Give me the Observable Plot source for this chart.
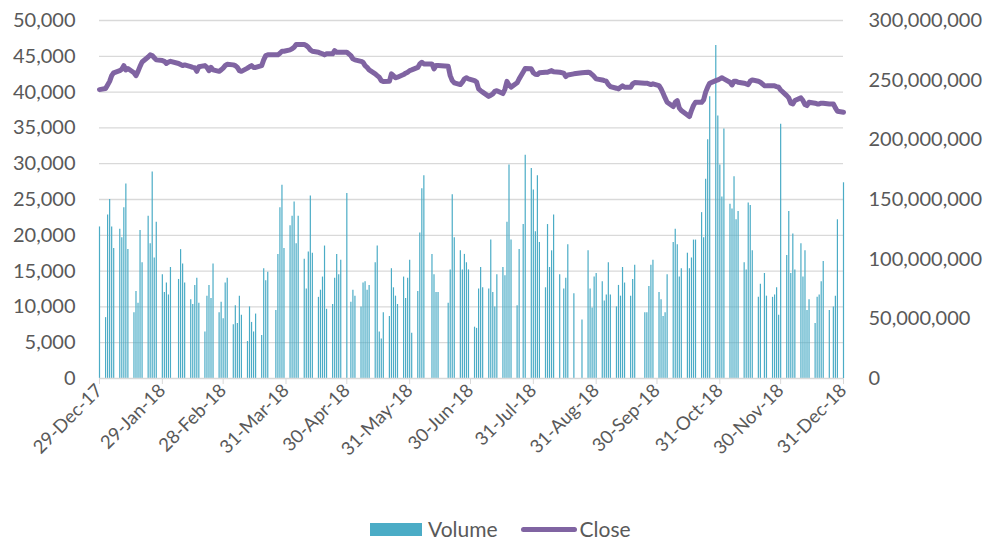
<!DOCTYPE html>
<html><head><meta charset="utf-8">
<script src="https://cdn.jsdelivr.net/npm/d3@7"></script>
<script src="https://cdn.jsdelivr.net/npm/@observablehq/plot@0.6"></script>
<style>
html,body{margin:0;padding:0;background:#fff;}
#wrap{position:relative;width:990px;height:540px;overflow:hidden;font-family:Lato,"Open Sans",sans-serif;}
#legend{position:absolute;top:518px;left:370px;height:22px;line-height:22px;display:flex;align-items:center;font-size:21px;color:#595959;white-space:nowrap;}
</style></head><body><div id="wrap"><div id="chart"></div>
<div id="legend"><span style="display:inline-block;width:52px;height:13px;background:#4BACC6;margin-right:6px"></span><span>Volume</span><span style="display:inline-block;width:56px;height:5px;border-radius:3px;background:#8064A2;margin:0 3px 0 23px"></span><span>Close</span></div>
</div>
<script>
// Trading calendar: weekdays between these dates, minus the market holidays
const startDate = "2017-12-29";
const endDate = "2018-12-31";
const holidays = ["2018-02-05","2018-03-23","2018-05-01","2018-06-08","2018-06-15","2018-06-18","2018-07-25","2018-08-14","2018-08-21","2018-08-22","2018-08-23","2018-09-20","2018-09-21","2018-11-21","2018-12-25"];

// x-axis tick dates
const tickDates = ["2017-12-29","2018-01-29","2018-02-28","2018-03-31","2018-04-30","2018-05-31","2018-06-30","2018-07-31","2018-08-31","2018-09-30","2018-10-31","2018-11-30","2018-12-31"];

// Daily volume, millions (one line per week)
const volumeM = [
  127,
  51,137,150,127,109,
  125,118,143,163,108,
  55,73,63,124,97,
  136,113,173,101,131,
  87,72,80,70,93,
  83,108,96,80,
  66,62,78,84,63,
  39,69,78,67,96,
  55,64,50,80,84,
  45,61,46,69,53,
  31,60,47,39,54,
  36,92,82,89,
  57,104,143,162,109,
  128,136,148,113,136,
  100,75,106,153,105,
  68,74,85,111,58,
  62,84,104,87,99,
  155,64,74,69,
  60,80,81,74,78,
  97,111,39,33,55,
  52,92,76,69,62,
  85,67,84,99,38,
  73,122,159,170,
  104,87,72,72,
  63,91,154,118,
  107,91,104,97,91,
  43,42,75,93,76,
  75,116,72,60,87,
  93,86,131,179,116,
  61,108,129,187,
  176,158,123,170,114,
  76,129,93,107,137,
  87,75,84,112,
  71,49,
  107,75,59,85,88,
  81,65,70,97,70,
  60,78,69,93,80,
  69,83,95,
  55,55,77,95,99,
  72,66,52,55,87,
  114,125,112,85,92,
  105,92,101,116,116,
  139,118,167,200,236,
  279,220,179,152,209,
  146,142,169,133,140,
  97,91,147,145,107,
  68,79,88,69,
  68,70,76,53,213,
  103,140,88,121,91,
  113,85,107,57,66,
  46,68,70,81,98,
  57,60,69,133,
  164
];

// Daily close (one line per week)
const closeVals = [
  40350,
  40500,41000,41500,42300,42700,
  43000,43200,43700,43100,43300,
  42700,42300,42900,43600,44200,
  44900,45200,45100,44800,44500,
  44400,44300,44000,44200,44300,
  44000,43850,43700,43800,
  43550,43450,43400,42900,43550,
  43700,43450,43000,43450,43100,
  42900,43100,43350,43700,43900,
  43800,43700,43450,43000,42900,
  43350,43550,43700,43450,43450,
  43700,44500,45100,45200,
  45200,45200,45430,45700,45700,
  45900,46050,46270,46650,46650,
  46650,46500,46270,45900,45700,
  45570,45430,45340,45200,45340,
  45340,45800,45570,45570,45570,
  45570,45100,44640,44500,
  44300,44170,43700,43450,43100,
  42550,42300,42080,41600,41470,
  41500,42550,42300,42000,42080,
  42450,42640,42780,43000,43100,
  43450,43940,44170,43940,
  43940,43250,43700,43700,
  43600,42300,41600,41300,
  41050,41380,41850,42000,41850,
  41600,41400,40450,40200,40000,
  39400,39550,39750,40100,40200,
  39800,40400,41500,41000,40700,
  41300,41850,42800,43300,
  43250,42700,42500,42450,42700,
  42780,42780,42900,43000,42850,
  42780,42650,42170,42400,
  42550,42700,
  42780,42700,42450,42170,41850,
  41700,41600,41520,41050,40770,
  40540,40450,40680,40870,40680,
  40680,41150,41330,
  41240,41240,41150,41050,41150,
  40900,40450,39840,39190,38580,
  37980,38580,38820,37790,37420,
  36800,36580,37420,38120,38580,
  38580,38910,40000,40680,41240,
  41600,41700,41850,42000,41850,
  41380,41000,41520,41520,41380,
  41240,41150,41050,41520,41700,
  41520,41380,40900,40870,
  40870,40870,40770,40680,40300,
  39500,39190,38450,38350,38820,
  39190,38820,38260,38120,38580,
  38450,38350,38350,38450,38450,
  38350,38350,37790,37330,
  37190
];

const leftTicks = [0,5000,10000,15000,20000,25000,30000,35000,40000,45000,50000];
const rightTicksM = [0,50,100,150,200,250,300];

// build trading days
const days = [];
const t0 = new Date(startDate + "T00:00:00Z"), t1 = new Date(endDate + "T00:00:00Z");
for (let t = t0.getTime(); t <= t1.getTime(); t += 864e5) {
  const d = new Date(t);
  const wd = d.getUTCDay();
  if (wd === 0 || wd === 6) continue;
  if (holidays.includes(d.toISOString().slice(0,10))) continue;
  days.push(d);
}
const n = Math.min(days.length, volumeM.length, closeVals.length);
const k = 50000 / 300e6; // right-axis volume -> left-axis units
const data = d3.range(n).map(i => ({date: days[i], volume: volumeM[i] * 1e6, close: closeVals[i]}));

const fmt = d3.format(",");
const chart = Plot.plot({
  width: 990,
  height: 500,
  marginLeft: 99,
  marginRight: 147,
  marginTop: 20,
  marginBottom: 122,
  style: {fontFamily: "Lato, 'Open Sans', sans-serif", fontSize: "20px", color: "#595959", background: "#fff"},
  x: {type: "utc", domain: [t0, t1]},
  y: {domain: [0, 50000]},
  marks: [
    Plot.gridY(leftTicks.slice(1), {stroke: "#d9d9d9", strokeOpacity: 1, strokeWidth: 1.3}),
    Plot.ruleX(data, {x: "date", y1: 0, y2: d => d.volume * k, stroke: "#4BACC6", strokeWidth: 1.2}),
    Plot.line(data, {x: "date", y: "close", stroke: "#8064A2", strokeWidth: 5, strokeLinejoin: "round", strokeLinecap: "round"}),
    Plot.ruleY([0], {stroke: "#d9d9d9", strokeWidth: 1.3}),
    Plot.axisY(leftTicks, {anchor: "left", tickSize: 0, tickPadding: 24, tickFormat: fmt, label: null}),
    Plot.axisY(rightTicksM.map(v => v * 1e6 * k), {anchor: "right", tickSize: 0, tickPadding: 25, tickFormat: v => fmt(Math.round(v / k)), label: null}),
    Plot.axisX(tickDates.map(s => new Date(s + "T00:00:00Z")), {tickSize: 6, tickPadding: 3, tickRotate: -45, fontSize: 18.5, tickFormat: d3.utcFormat("%d-%b-%y"), label: null, stroke: "#d9d9d9"})
  ]
});
document.getElementById("chart").appendChild(chart);
</script>
</body></html>
